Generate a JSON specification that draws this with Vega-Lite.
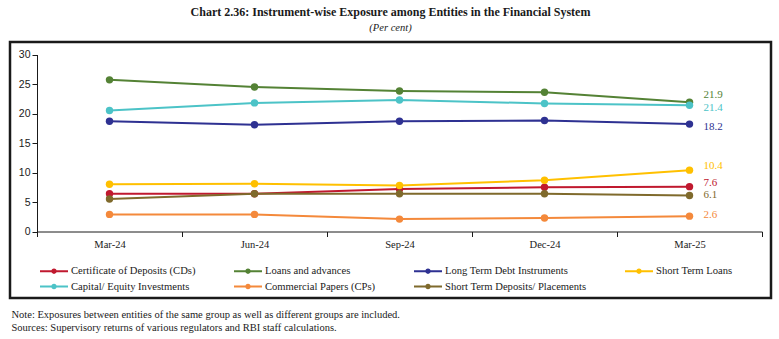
{
  "$schema": "https://vega.github.io/schema/vega-lite/v6.json",
  "width": 761,
  "height": 256,
  "padding": {"top": 5, "left": 10, "right": 8, "bottom": 0},
  "background": "white",
  "title": {
    "text": "Chart 2.36: Instrument-wise Exposure among Entities in the Financial System",
    "subtitle": "(Per cent)",
    "font": "Liberation Serif",
    "fontSize": 12,
    "fontWeight": "bold",
    "color": "#1a1a1a",
    "subtitleFont": "Liberation Serif",
    "subtitleFontSize": 10.5,
    "subtitleFontStyle": "italic",
    "subtitleColor": "#1a1a1a",
    "subtitlePadding": 4,
    "anchor": "middle",
    "offset": 8
  },
  "data": {
    "values": [
      {"month": "Mar-24", "series": "Certificate of Deposits (CDs)", "value": 6.4},
      {"month": "Jun-24", "series": "Certificate of Deposits (CDs)", "value": 6.4},
      {"month": "Sep-24", "series": "Certificate of Deposits (CDs)", "value": 7.2},
      {"month": "Dec-24", "series": "Certificate of Deposits (CDs)", "value": 7.5},
      {"month": "Mar-25", "series": "Certificate of Deposits (CDs)", "value": 7.6},
      {"month": "Mar-24", "series": "Loans and advances", "value": 25.7},
      {"month": "Jun-24", "series": "Loans and advances", "value": 24.5},
      {"month": "Sep-24", "series": "Loans and advances", "value": 23.8},
      {"month": "Dec-24", "series": "Loans and advances", "value": 23.6},
      {"month": "Mar-25", "series": "Loans and advances", "value": 21.9},
      {"month": "Mar-24", "series": "Long Term Debt Instruments", "value": 18.7},
      {"month": "Jun-24", "series": "Long Term Debt Instruments", "value": 18.1},
      {"month": "Sep-24", "series": "Long Term Debt Instruments", "value": 18.7},
      {"month": "Dec-24", "series": "Long Term Debt Instruments", "value": 18.8},
      {"month": "Mar-25", "series": "Long Term Debt Instruments", "value": 18.2},
      {"month": "Mar-24", "series": "Short Term Loans", "value": 8.0},
      {"month": "Jun-24", "series": "Short Term Loans", "value": 8.1},
      {"month": "Sep-24", "series": "Short Term Loans", "value": 7.8},
      {"month": "Dec-24", "series": "Short Term Loans", "value": 8.7},
      {"month": "Mar-25", "series": "Short Term Loans", "value": 10.4},
      {"month": "Mar-24", "series": "Capital/ Equity Investments", "value": 20.5},
      {"month": "Jun-24", "series": "Capital/ Equity Investments", "value": 21.8},
      {"month": "Sep-24", "series": "Capital/ Equity Investments", "value": 22.3},
      {"month": "Dec-24", "series": "Capital/ Equity Investments", "value": 21.7},
      {"month": "Mar-25", "series": "Capital/ Equity Investments", "value": 21.4},
      {"month": "Mar-24", "series": "Commercial Papers (CPs)", "value": 2.9},
      {"month": "Jun-24", "series": "Commercial Papers (CPs)", "value": 2.9},
      {"month": "Sep-24", "series": "Commercial Papers (CPs)", "value": 2.1},
      {"month": "Dec-24", "series": "Commercial Papers (CPs)", "value": 2.3},
      {"month": "Mar-25", "series": "Commercial Papers (CPs)", "value": 2.6},
      {"month": "Mar-24", "series": "Short Term Deposits/ Placements", "value": 5.5},
      {"month": "Jun-24", "series": "Short Term Deposits/ Placements", "value": 6.4},
      {"month": "Sep-24", "series": "Short Term Deposits/ Placements", "value": 6.4},
      {"month": "Dec-24", "series": "Short Term Deposits/ Placements", "value": 6.4},
      {"month": "Mar-25", "series": "Short Term Deposits/ Placements", "value": 6.1}
    ]
  },
  "encoding": {
    "x": {
      "field": "month",
      "type": "ordinal",
      "sort": ["Mar-24", "Jun-24", "Sep-24", "Dec-24", "Mar-25"],
      "bandPosition": 0.5,
      "scale": {"type": "band", "range": [27, 752], "paddingInner": 0, "paddingOuter": 0},
      "axis": {
        "offset": -66.5,
        "tickBand": "extent",
        "tickSize": 5,
        "tickColor": "#1a1a1a",
        "domainColor": "#1a1a1a",
        "labelAngle": 0,
        "labelFont": "Liberation Serif",
        "labelFontSize": 10.5,
        "labelColor": "#1a1a1a",
        "labelPadding": 3,
        "grid": false,
        "title": ["Note: Exposures between entities of the same group as well as different groups are included.", "Sources: Supervisory returns of various regulators and RBI staff calculations."],
        "titleFont": "Liberation Serif",
        "titleFontSize": 10.5,
        "titleFontWeight": "normal",
        "titleColor": "#1a1a1a",
        "titleAlign": "left",
        "titleAnchor": "start",
        "titleBaseline": "alphabetic",
        "titleX": 1,
        "titleY": 86,
        "titleLineHeight": 12.5
      }
    },
    "y": {
      "field": "value",
      "type": "quantitative",
      "scale": {"domain": [0, 30], "range": [189.5, 12.5], "nice": false, "zero": false},
      "axis": {
        "offset": -27,
        "values": [0, 5, 10, 15, 20, 25, 30],
        "tickSize": 5,
        "tickColor": "#1a1a1a",
        "domainColor": "#1a1a1a",
        "labelFont": "Liberation Sans",
        "labelFontSize": 10.5,
        "labelColor": "#1a1a1a",
        "labelPadding": 2,
        "grid": false,
        "title": null
      }
    },
    "color": {
      "field": "series",
      "type": "nominal",
      "sort": ["Certificate of Deposits (CDs)", "Loans and advances", "Long Term Debt Instruments", "Short Term Loans", "Capital/ Equity Investments", "Commercial Papers (CPs)", "Short Term Deposits/ Placements"],
      "scale": {
        "domain": ["Certificate of Deposits (CDs)", "Loans and advances", "Long Term Debt Instruments", "Short Term Loans", "Capital/ Equity Investments", "Commercial Papers (CPs)", "Short Term Deposits/ Placements"],
        "range": ["#C0192F", "#548235", "#2E3192", "#FFC000", "#4CC3C7", "#F4893B", "#7F6A2C"]
      }
    }
  },
  "layer": [
    {
      "mark": {"type": "line", "strokeWidth": 2, "point": {"filled": true, "size": 55}},
      "encoding": {
        "color": {
          "field": "series",
          "type": "nominal",
          "legend": {
            "orient": "none",
            "direction": "horizontal",
            "legendX": 36,
            "legendY": 221,
            "columns": 4,
            "title": null,
            "symbolType": "M-2,0H2M-0.25,0a0.25,0.25 0 1,0 0.5,0a0.25,0.25 0 1,0 -0.5,0",
            "symbolSize": 196,
            "symbolStrokeWidth": 2,
            "labelFont": "Liberation Serif",
            "labelFontSize": 10.6,
            "labelColor": "#1a1a1a",
            "labelOffset": 9,
            "columnPadding": 34,
            "rowPadding": 1.5,
            "labelLimit": 300
          }
        }
      }
    },
    {
      "transform": [{"filter": {"and": [{"field": "month", "equal": "Mar-25"}, {"field": "series", "oneOf": ["Loans and advances"]}]}}],
      "mark": {"type": "text", "align": "left", "baseline": "middle", "dx": 14, "dy": -7, "font": "Liberation Serif", "fontSize": 11},
      "encoding": {"text": {"field": "value", "type": "quantitative", "format": ".1f"}, "color": {"field": "series", "type": "nominal", "legend": null}}
    },
    {
      "transform": [{"filter": {"and": [{"field": "month", "equal": "Mar-25"}, {"field": "series", "oneOf": ["Capital/ Equity Investments", "Long Term Debt Instruments"]}]}}],
      "mark": {"type": "text", "align": "left", "baseline": "middle", "dx": 14, "dy": 3, "font": "Liberation Serif", "fontSize": 11},
      "encoding": {"text": {"field": "value", "type": "quantitative", "format": ".1f"}, "color": {"field": "series", "type": "nominal", "legend": null}}
    },
    {
      "transform": [{"filter": {"and": [{"field": "month", "equal": "Mar-25"}, {"field": "series", "oneOf": ["Short Term Loans", "Certificate of Deposits (CDs)"]}]}}],
      "mark": {"type": "text", "align": "left", "baseline": "middle", "dx": 14, "dy": -4, "font": "Liberation Serif", "fontSize": 11},
      "encoding": {"text": {"field": "value", "type": "quantitative", "format": ".1f"}, "color": {"field": "series", "type": "nominal", "legend": null}}
    },
    {
      "transform": [{"filter": {"and": [{"field": "month", "equal": "Mar-25"}, {"field": "series", "oneOf": ["Commercial Papers (CPs)", "Short Term Deposits/ Placements"]}]}}],
      "mark": {"type": "text", "align": "left", "baseline": "middle", "dx": 14, "dy": -1, "font": "Liberation Serif", "fontSize": 11},
      "encoding": {"text": {"field": "value", "type": "quantitative", "format": ".1f"}, "color": {"field": "series", "type": "nominal", "legend": null}}
    }
  ],
  "config": {
    "view": {"stroke": "#1a1a1a", "strokeWidth": 2.5}
  }
}
